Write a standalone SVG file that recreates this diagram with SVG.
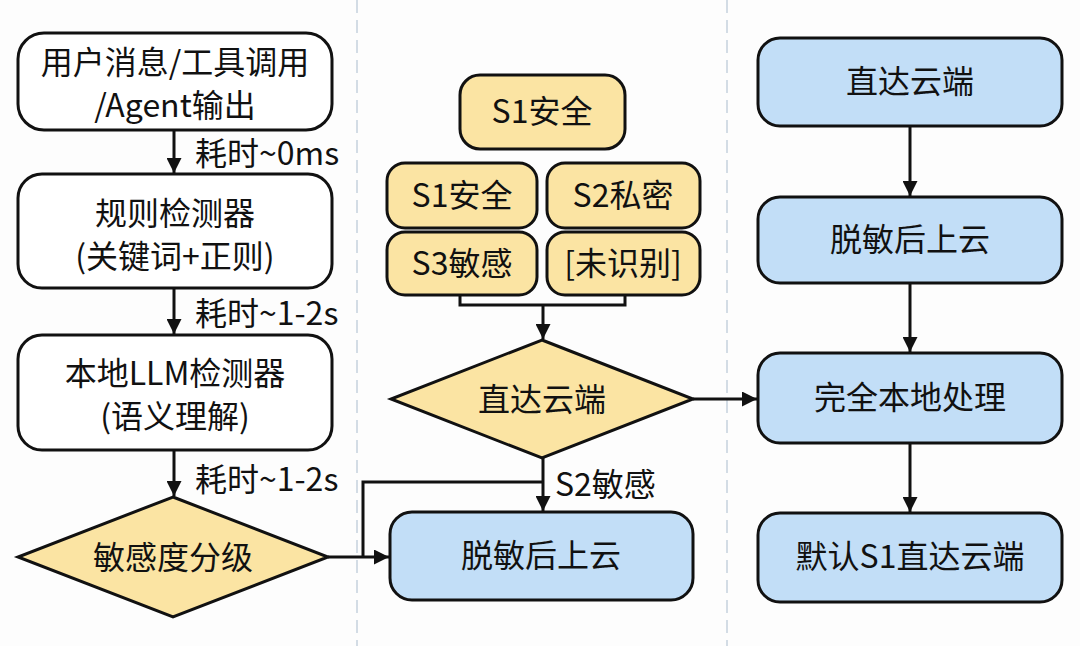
<svg xmlns="http://www.w3.org/2000/svg" width="1080" height="646" viewBox="0 0 1080 646">
<defs>
<style>
.t{font-family:"Noto Sans CJK SC","Noto Sans",sans-serif;font-size:32px;font-weight:400;fill:#111;text-anchor:middle}
.l{font-family:"Noto Sans CJK SC","Noto Sans",sans-serif;font-size:32px;font-weight:400;fill:#111;text-anchor:start}
.w{fill:#ffffff;stroke:#111;stroke-width:3}
.y{fill:#FBE4A3;stroke:#111;stroke-width:3}
.b{fill:#C2DEF7;stroke:#111;stroke-width:3}
.c{fill:none;stroke:#111;stroke-width:3}
.d{stroke:#D3DCE5;stroke-width:2;stroke-dasharray:13 7}
</style>
<marker id="ah" viewBox="0 0 10 10" refX="10" refY="5" markerWidth="16" markerHeight="15" markerUnits="userSpaceOnUse" orient="auto">
<path d="M0,0 L10,5 L0,10 z" fill="#111"/>
</marker>
</defs>
<rect width="1080" height="646" fill="#fdfdfd"/>
<line class="d" x1="357" y1="0" x2="357" y2="646"/>
<line class="d" x1="727" y1="0" x2="727" y2="646"/>
<g id="connectors">
<path class="c" d="M174,130 V173" marker-end="url(#ah)"/>
<path class="c" d="M174,288 V334" marker-end="url(#ah)"/>
<path class="c" d="M174,450 V496" marker-end="url(#ah)"/>
<path class="c" d="M328,557 H389" marker-end="url(#ah)"/>
<path class="c" d="M363,557 V482 H543"/>
<path class="c" d="M460,295 V305 H625 V295"/>
<path class="c" d="M543,305 V339" marker-end="url(#ah)"/>
<path class="c" d="M693,399 H757" marker-end="url(#ah)"/>
<path class="c" d="M543,458 V511" marker-end="url(#ah)"/>
<path class="c" d="M910,126 V196" marker-end="url(#ah)"/>
<path class="c" d="M910,283 V352" marker-end="url(#ah)"/>
<path class="c" d="M910,443 V512" marker-end="url(#ah)"/>
<text class="l" x="195" y="165">耗时~0ms</text>
<text class="l" x="195" y="325">耗时~1-2s</text>
<text class="l" x="195" y="491">耗时~1-2s</text>
<text class="l" x="555" y="496">S2敏感</text>
</g>
<g id="n-input">
<rect class="w" x="18" y="33" width="314" height="97" rx="26"/>
<text class="t" x="175" y="74">用户消息/工具调用</text>
<text class="t" x="175" y="117">/Agent输出</text>
</g>
<g id="n-rule">
<rect class="w" x="18" y="174" width="314" height="114" rx="24"/>
<text class="t" x="175" y="225">规则检测器</text>
<text class="t" x="175" y="268">(关键词+正则)</text>
</g>
<g id="n-llm">
<rect class="w" x="18" y="335" width="314" height="115" rx="24"/>
<text class="t" x="175" y="385">本地LLM检测器</text>
<text class="t" x="175" y="428">(语义理解)</text>
</g>
<g id="n-grade">
<polygon class="y" points="173,497 328,557 173,617 18,557"/>
<text class="t" x="173" y="569">敏感度分级</text>
</g>
<g id="n-s1top">
<rect class="y" x="460" y="75" width="165" height="74" rx="20"/>
<text class="t" x="542" y="123">S1安全</text>
</g>
<g id="n-s1">
<rect class="y" x="387" y="163" width="150" height="65" rx="18"/>
<text class="t" x="462" y="207">S1安全</text>
</g>
<g id="n-s2">
<rect class="y" x="547" y="163" width="153" height="65" rx="18"/>
<text class="t" x="623" y="207">S2私密</text>
</g>
<g id="n-s3">
<rect class="y" x="387" y="232" width="150" height="63" rx="18"/>
<text class="t" x="462" y="275">S3敏感</text>
</g>
<g id="n-unk">
<rect class="y" x="547" y="232" width="153" height="63" rx="18"/>
<text class="t" x="623" y="275">[未识别]</text>
</g>
<g id="n-direct-d">
<polygon class="y" points="542,340 693,399 542,458 391,399"/>
<text class="t" x="542" y="411">直达云端</text>
</g>
<g id="n-desens-mid">
<rect class="b" x="390" y="512" width="303" height="88" rx="22"/>
<text class="t" x="541" y="567">脱敏后上云</text>
</g>
<g id="n-r1">
<rect class="b" x="758" y="38" width="304" height="88" rx="22"/>
<text class="t" x="910" y="93">直达云端</text>
</g>
<g id="n-r2">
<rect class="b" x="758" y="197" width="304" height="86" rx="22"/>
<text class="t" x="910" y="251">脱敏后上云</text>
</g>
<g id="n-r3">
<rect class="b" x="758" y="353" width="304" height="90" rx="22"/>
<text class="t" x="910" y="409">完全本地处理</text>
</g>
<g id="n-r4">
<rect class="b" x="758" y="513" width="304" height="89" rx="22"/>
<text class="t" x="910" y="568">默认S1直达云端</text>
</g>
</svg>
